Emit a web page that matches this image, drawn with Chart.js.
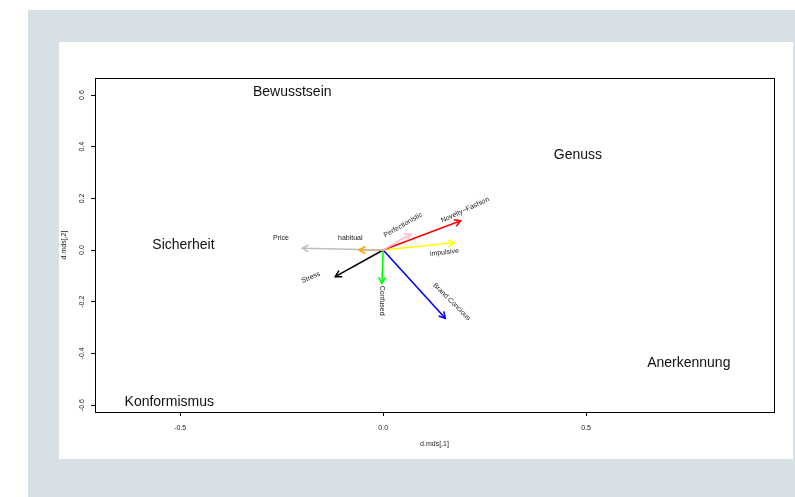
<!DOCTYPE html>
<html>
<head>
<meta charset="utf-8">
<script src="https://cdn.jsdelivr.net/npm/chart.js@4.4.1/dist/chart.umd.min.js"></script>
<style>
  html, body { margin: 0; padding: 0; background: #ffffff; }
  #outer { position: absolute; left: 28px; top: 10px; width: 767px; height: 487px; background: #d7e1e5; }
  #panel { position: absolute; left: 59px; top: 42px; width: 734px; height: 417px; background: #ffffff; }
  #wrap { position: absolute; left: 0; top: 0; width: 795px; height: 497px; }
</style>
</head>
<body>
<div id="outer"></div>
<div id="panel"></div>
<div id="wrap"><canvas id="Chart_1" width="795" height="497"></canvas></div>
<script>
// arrow variables (loadings) - end points of the arrows
let varNames = ['Price', 'habitual', 'Perfectionistic', 'Novelty\u2212Fashion', 'impulsive', 'Stress', 'Confused', 'Brand Concious'];
let varX = [-0.199, -0.059, 0.068, 0.191, 0.175, -0.118, -0.003, 0.153];
let varY = [0.007, 0.0, 0.062, 0.113, 0.028, -0.103, -0.129, -0.264];
let varColors = ['#bebebe', '#ffa500', '#ffc0cb', '#ff0000', '#ffff00', '#000000', '#00ff00', '#0000ff'];

// where the arrow names sit
let varLabelX = [-0.252, -0.081, 0.049, 0.202, 0.151, -0.178, -0.002, 0.169];
let varLabelY = [0.048, 0.048, 0.097, 0.155, -0.009, -0.106, -0.196, -0.200];

// group names
let groupNames = ['Bewusstsein', 'Genuss', 'Sicherheit', 'Anerkennung', 'Konformismus'];
let groupX = [-0.224, 0.48, -0.492, 0.753, -0.527];
let groupY = [0.612, 0.368, 0.019, -0.437, -0.588];

// axes
let xTicks = [-0.5, 0.0, 0.5];
let yTicks = [-0.6, -0.4, -0.2, 0.0, 0.2, 0.4, 0.6];
let xRange = [-0.71, 0.963];
let yRange = [-0.627, 0.666];

let labelAngle = [0, 0, -30, -25, -6, -23, 90, 45];

let datasets = varNames.map(function (n, i) {
  return {
    label: n,
    data: [{ x: 0, y: 0 }, { x: varX[i], y: varY[i] }],
    borderColor: varColors[i],
    borderWidth: 1.6,
    pointRadius: 0,
    fill: false
  };
});

let FONT = '"Liberation Sans", Arial, Helvetica, sans-serif';

let drawExtras = {
  id: 'drawExtras',
  afterDatasetsDraw: function (chart) {
    let ctx = chart.ctx;
    let xs = chart.scales.x, ys = chart.scales.y;
    let a = chart.chartArea;
    ctx.save();
    // box around the plot
    ctx.strokeStyle = '#000';
    ctx.lineWidth = 1;
    ctx.strokeRect(Math.round(a.left) + 0.5, Math.round(a.top) + 0.5, Math.round(a.right - a.left), Math.round(a.bottom - a.top));
    // arrow heads
    chart.data.datasets.forEach(function (ds, i) {
      let pts = chart.getDatasetMeta(i).data;
      let p0 = pts[0], p1 = pts[1];
      let ang = Math.atan2(p1.y - p0.y, p1.x - p0.x);
      let L = 7, w = Math.PI / 6;
      ctx.strokeStyle = ds.borderColor;
      ctx.lineWidth = 1.6;
      ctx.beginPath();
      ctx.moveTo(p1.x - L * Math.cos(ang - w), p1.y - L * Math.sin(ang - w));
      ctx.lineTo(p1.x, p1.y);
      ctx.lineTo(p1.x - L * Math.cos(ang + w), p1.y - L * Math.sin(ang + w));
      ctx.stroke();
    });
    // arrow names
    ctx.fillStyle = '#222';
    ctx.textAlign = 'center';
    ctx.textBaseline = 'middle';
    ctx.font = '7px ' + FONT;
    varNames.forEach(function (n, i) {
      ctx.save();
      ctx.translate(xs.getPixelForValue(varLabelX[i]), ys.getPixelForValue(varLabelY[i]));
      ctx.rotate(labelAngle[i] * Math.PI / 180);
      ctx.fillText(n, 0, 0);
      ctx.restore();
    });
    // group names
    ctx.fillStyle = '#111';
    ctx.font = '14px ' + FONT;
    groupNames.forEach(function (n, i) {
      ctx.fillText(n, xs.getPixelForValue(groupX[i]), ys.getPixelForValue(groupY[i]));
    });
    ctx.restore();
  }
};

let cxt = document.getElementById('Chart_1');
let grafico = new Chart(cxt, {
  type: 'line',
  data: { datasets: datasets },
  options: {
    responsive: false,
    animation: false,
    events: [],
    layout: { padding: { left: 55, top: 78, right: 21, bottom: 40 } },
    plugins: { legend: { display: false }, tooltip: { enabled: false } },
    scales: {
      x: {
        type: 'linear',
        min: xRange[0], max: xRange[1],
        afterBuildTicks: function (s) { s.ticks = xTicks.map(function (v) { return { value: v }; }); },
        afterFit: function (s) { s.height = 45; },
        grid: { drawOnChartArea: false, drawTicks: true, tickLength: 4, color: '#000' },
        border: { display: true, color: '#000' },
        ticks: {
          font: { size: 7, family: FONT }, color: '#222', padding: 8, maxRotation: 0,
          callback: function (v) { return v.toFixed(1); }
        },
        title: { display: true, text: 'd.mds[,1]', font: { size: 7, family: FONT }, color: '#222', padding: { top: 0, bottom: 9 } }
      },
      y: {
        type: 'linear',
        min: yRange[0], max: yRange[1],
        afterBuildTicks: function (s) { s.ticks = yTicks.map(function (v) { return { value: v }; }); },
        afterFit: function (s) { s.width = 40; },
        grid: { drawOnChartArea: false, drawTicks: true, tickLength: 4, color: '#000' },
        border: { display: true, color: '#000' },
        ticks: {
          font: { size: 7, family: FONT }, color: '#222', padding: 3, minRotation: 90, maxRotation: 90, crossAlign: 'center',
          callback: function (v) { return v.toFixed(1); }
        },
        title: { display: true, text: 'd.mds[,2]', font: { size: 7, family: FONT }, color: '#222', padding: { top: 5, bottom: 0 } }
      }
    }
  },
  plugins: [drawExtras]
});
</script>
</body>
</html>
